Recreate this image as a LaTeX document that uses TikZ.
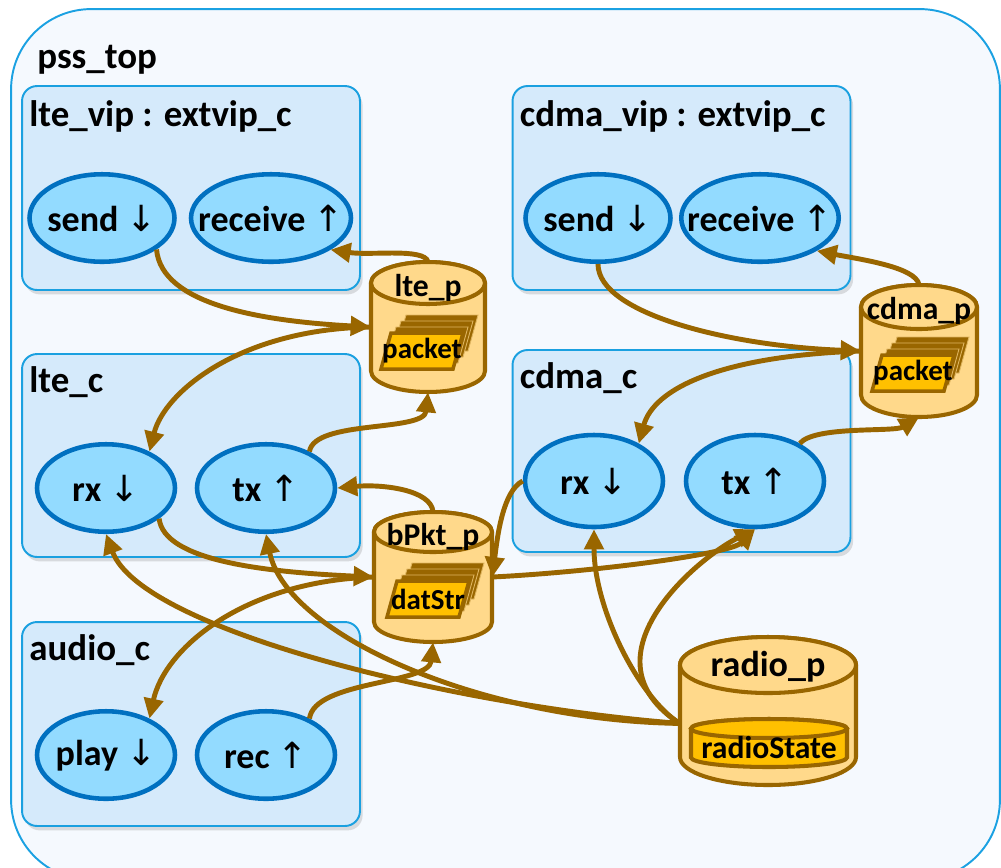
\documentclass[tikz,border=0pt]{standalone}
\usepackage{fontspec}
\setmainfont{Carlito}
\newfontfamily\arrowfont{DejaVu Sans}
\usetikzlibrary{shapes.geometric,arrows.meta,positioning,shadows}

\definecolor{skyfill}{HTML}{F5F9FE}
\definecolor{skyline}{HTML}{1BA1E2}
\definecolor{compfill}{HTML}{D5EAFB}
\definecolor{compline}{HTML}{1AA0E0}
\definecolor{portfill}{HTML}{93DBFF}
\definecolor{portline}{HTML}{0070C0}
\definecolor{drumfill}{HTML}{FFD98B}
\definecolor{drumline}{HTML}{996600}
\definecolor{pktfill}{HTML}{FFC000}

\newcommand{\arrdown}{{\arrowfont\mdseries ↓}}
\newcommand{\arrup}{{\arrowfont\mdseries ↑}}

% cylinder: [style] name, x, y, half width, half height, cap radius
\newcommand{\drum}[7][drum]{%
  \node[minimum width=#5*0.04cm, minimum height=#6*0.04cm, inner sep=0] (#2) at (#3,#4) {};
  \filldraw[#1] (#3-#5,#4-#6+#7) -- (#3-#5,#4+#6-#7)
    arc[start angle=180, end angle=0, x radius=#5, y radius=#7]
    -- (#3+#5,#4-#6+#7) arc[start angle=0, end angle=-180, x radius=#5, y radius=#7] -- cycle;
  \draw[#1] (#3,#4-#6+#7) ellipse[x radius=#5, y radius=#7];
}

% stacked packets: name, x, y, label
\newcommand{\pkt}[4]{%
  \foreach \d in {3,2,1} {
    \filldraw[pktback] (#2-41+5*\d,#3+18-6*\d) -- (#2+31+5*\d,#3+18-6*\d)
      -- (#2+41+5*\d,#3-18-6*\d) -- (#2-31+5*\d,#3-18-6*\d) -- cycle;
  }
  \filldraw[pktfront] (#2-41,#3+18) -- (#2+31,#3+18) -- (#2+41,#3-18) -- (#2-31,#3-18) -- cycle;
  \node[pktlabel] (#1) at (#2,#3) {#4};
}

\begin{document}
\begin{tikzpicture}[x=0.02cm, y=-0.02cm,
    outerbox/.style={rectangle, draw=skyline, fill=skyfill, line width=1.1pt, rounded corners=1.6cm},
    comp/.style={rectangle, draw=compline, fill=compfill, line width=1.1pt, rounded corners=0.3cm,
      minimum width=6.76cm, minimum height=4.08cm,
      drop shadow={shadow xshift=1.5pt, shadow yshift=-2.5pt, opacity=0.25}},
    title/.style={font=\bfseries\fontsize{21}{25}\selectfont, inner sep=0, anchor=base west},
    port/.style={ellipse, draw=portline, fill=portfill, line width=2.6pt, inner sep=0,
      minimum width=2.76cm, minimum height=1.75cm},
    portlabel/.style={font=\bfseries\fontsize{20.5}{24}\selectfont},
    drum/.style={draw=drumline, fill=drumfill, line width=2.3pt},
    drumin/.style={draw=drumline, fill=pktfill, line width=2.3pt},
    drumlabel/.style={font=\bfseries\fontsize{18}{21}\selectfont, inner sep=0},
    pktback/.style={fill=drumline, draw=drumfill!70!drumline, line width=0.5pt},
    pktfront/.style={fill=pktfill, draw=drumline, line width=2pt},
    pktlabel/.style={font=\bfseries\fontsize{16.5}{19}\selectfont, inner sep=0},
    arrow/.style={-{Triangle[length=0.4cm, width=0.38cm]}, draw=drumline, line width=2.8pt}
  ]
  \useasboundingbox (0,0) rectangle (1001,867);

  % === pss_top ===
  \begin{scope}
    \clip (0,0) rectangle (1001,867);
    \node[outerbox, minimum width=19.78cm, minimum height=17.42cm] (psstop) at (505.5,444.5) {};
  \end{scope}
  \node[title] (psstitle) at (37,68) {pss\_top};

  % === components ===
  \node[comp] (ltevip) at (191,188) {};
  \node[title] (ltevipt) at ([shift={(8,41)}]ltevip.north west) {lte\_vip : extvip\_c};
  \node[comp] (cdmavip) at (681.5,188) {};
  \node[title] (cdmavipt) at ([shift={(8,41)}]cdmavip.north west) {cdma\_vip : extvip\_c};
  \node[comp, minimum height=4.06cm] (ltec) at (191,455.5) {};
  \node[title] (ltect) at ([shift={(8,39)}]ltec.north west) {lte\_c};
  \node[comp, minimum height=4.04cm] (cdmac) at (681.5,451) {};
  \node[title] (cdmact) at ([shift={(8,39)}]cdmac.north west) {cdma\_c};
  \node[comp] (audioc) at (191,724) {};
  \node[title] (audioct) at ([shift={(8,39)}]audioc.north west) {audio\_c};

  % === ports ===
  \node[port, minimum width=2.9cm, label={[portlabel]center:send \arrdown}] (ltesend) at (102,218) {};
  \node[port, minimum width=3.2cm, label={[portlabel]center:receive \arrup}] (ltercv) at (271,218) {};
  \node[port, minimum width=2.9cm, label={[portlabel]center:send \arrdown}] (cdmasend) at (598,218) {};
  \node[port, minimum width=3.15cm, label={[portlabel]center:receive \arrup}] (cdmarcv) at (760,218) {};
  \node[port, label={[portlabel]center:rx \arrdown}] (lterx) at (106,488) {};
  \node[port, label={[portlabel]center:tx \arrup}] (ltetx) at (266,488) {};
  \node[port, minimum height=1.84cm, label={[portlabel]center:rx \arrdown}] (cdmarx) at (594,481) {};
  \node[port, minimum height=1.84cm, label={[portlabel]center:tx \arrup}] (cdmatx) at (755,481) {};
  \node[port, label={[portlabel]center:play \arrdown}] (play) at (106,755) {};
  \node[port, label={[portlabel]center:rec \arrup}] (rec) at (266,755) {};

  % === channels ===
  \drum{ltep}{428}{327}{57}{65}{21}
  \node[drumlabel] (lteplab) at (428,288) {lte\_p};
  \pkt{ltepkt}{422}{351}{packet}

  \drum{bpkt}{433}{577}{59}{65}{20}
  \node[drumlabel] (bpktlab) at (433,537) {bPkt\_p};
  \pkt{bpktpkt}{428}{599}{datStr}

  \drum{cdmap}{919}{351}{58}{66}{22}
  \node[drumlabel] (cdmaplab) at (919,311) {cdma\_p};
  \pkt{cdmapkt}{913}{373}{packet}

  \drum{radiop}{768}{711}{88}{74}{28}
  \node[drumlabel, font=\bfseries\fontsize{20.5}{24}\selectfont] (radioplab) at (768,667) {radio\_p};
  \drum[drumin]{radiost}{769}{743}{78}{24}{9.5}
  \node[drumlabel] (radiostlab) at (769,748) {radioState};

  % === lte connections ===
  \draw[arrow] (ltep.north) .. controls +(-4,-14) and +(40,6) .. (ltercv.-28);
  \draw[arrow] (ltesend.-30) .. controls +(5,55) and +(-110,-6) .. (ltep.west);
  \draw[arrow] (ltep.west) .. controls +(-130,2) and +(15,-60) .. (lterx.40);
  \draw[arrow] (ltetx.40) .. controls +(5,-32) and +(-4,40) .. (ltep.south);
  \draw[arrow] (bpkt.north) .. controls +(-2,-22) and +(45,-4) .. (ltetx.east);
  \draw[arrow] (lterx.-30) .. controls +(5,42) and +(-110,-5) .. (bpkt.west);
  \draw[arrow] (bpkt.west) .. controls +(-130,4) and +(15,-70) .. (play.40);
  \draw[arrow] (rec.40) .. controls +(5,-38) and +(-4,42) .. (bpkt.south);

  % === cdma connections ===
  \draw[arrow] (cdmap.north) .. controls +(-3,-18) and +(40,8) .. (cdmarcv.-30);
  \draw[arrow] (cdmasend.south) .. controls +(0,50) and +(-130,-5) .. (cdmap.west);
  \draw[arrow] (cdmap.west) .. controls +(-140,5) and +(15,-55) .. (cdmarx.40);
  \draw[arrow] (cdmatx.40) .. controls +(15,-18) and +(-25,15) .. (cdmap.south);
  \draw[arrow] (cdmarx.west) .. controls +(-20,10) and +(5,-40) .. (bpkt.east);
  \draw[arrow] (bpkt.east) .. controls +(100,-5) and +(-25,25) .. (cdmatx.south);

  % === radio state ===
  \draw[arrow] (radiop.188) .. controls +(-40,-25) and +(0,80) .. (cdmarx.south);
  \draw[arrow] (radiop.188) .. controls +(-100,-65) and +(-60,30) .. (cdmatx.south);
  \draw[arrow] (radiop.188) .. controls +(-230,-18) and +(35,95) .. (lterx.south);
  \draw[arrow] (radiop.188) .. controls +(-200,-3) and +(20,100) .. (ltetx.south);

\end{tikzpicture}
\end{document}
